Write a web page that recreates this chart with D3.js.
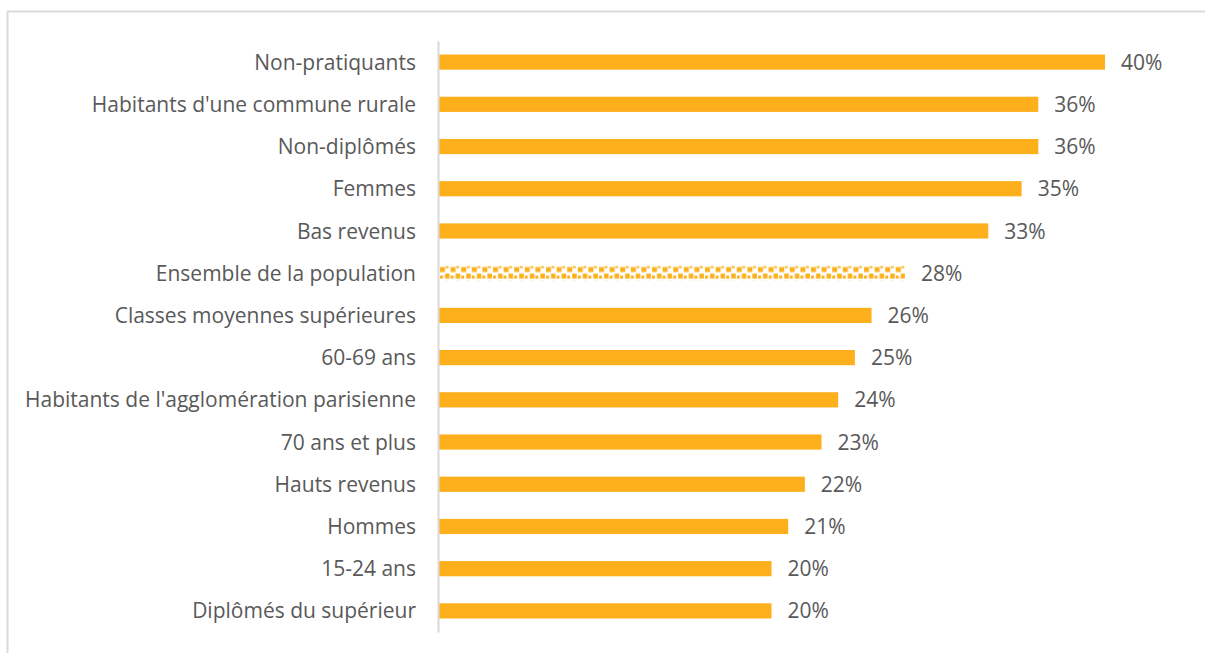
<!DOCTYPE html>
<html>
<head>
<meta charset="utf-8">
<script src="https://cdn.jsdelivr.net/npm/d3@7/dist/d3.min.js"></script>
<style>
  html, body { margin: 0; padding: 0; background: #fff; }
  svg { display: block; }
  text { font-family: "Open Sans", sans-serif; fill: #595959; }
</style>
</head>
<body>
<svg id="chart" width="1205" height="653"></svg>
<script>
// Share of each group, in percent, top to bottom
const categories = [
  "Non-pratiquants",
  "Habitants d'une commune rurale",
  "Non-diplômés",
  "Femmes",
  "Bas revenus",
  "Ensemble de la population",
  "Classes moyennes supérieures",
  "60-69 ans",
  "Habitants de l'agglomération parisienne",
  "70 ans et plus",
  "Hauts revenus",
  "Hommes",
  "15-24 ans",
  "Diplômés du supérieur"
];
const values = [40, 36, 36, 35, 33, 28, 26, 25, 24, 23, 22, 21, 20, 20];
// The overall-population bar is drawn with a dotted fill
const highlighted = ["Ensemble de la population"];

const svg = d3.select("#chart");
const W = 1205, H = 653;
const orange = "#FDB01B";
const fontSize = 21;

// Frame around the chart area
svg.append("line").attr("x1", 7.5).attr("x2", W).attr("y1", 11.5).attr("y2", 11.5)
  .attr("stroke", "#d9d9d9").attr("stroke-width", 2);
svg.append("line").attr("x1", 7.5).attr("x2", 7.5).attr("y1", 11).attr("y2", H)
  .attr("stroke", "#d9d9d9").attr("stroke-width", 2);

const x0 = 438;
const x = d3.scaleLinear().domain([0, 40]).range([x0, 1105]);
const y = d3.scaleBand().domain(categories).range([41, 632]).paddingInner(0.64).paddingOuter(0.32);

// Confetti-like pattern for the highlighted bar
const defs = svg.append("defs");
const pat = defs.append("pattern").attr("id", "confetti")
  .attr("patternUnits", "userSpaceOnUse")
  .attr("width", 10.6).attr("height", 15)
  .attr("x", x0 + 1).attr("y", y(highlighted[0]));
[[1, 1.5, 5, 5], [6.5, 0.5, 3, 2], [6, 8, 4.5, 5], [1, 10, 3, 3]]
  .forEach(([px, py, pw, ph]) => pat.append("rect")
    .attr("x", px).attr("y", py).attr("width", pw).attr("height", ph).attr("fill", orange));

const rows = svg.append("g");
rows.selectAll("rect.bar").data(categories).join("rect")
  .attr("class", "bar")
  .attr("x", x0 + 1)
  .attr("y", d => y(d))
  .attr("width", (d, i) => x(values[i]) - x0 - 1)
  .attr("height", y.bandwidth())
  .attr("fill", d => highlighted.includes(d) ? "url(#confetti)" : orange);

// Value labels
rows.selectAll("text.val").data(categories).join("text")
  .attr("class", "val")
  .attr("x", (d, i) => x(values[i]) + 16)
  .attr("y", d => y(d) + y.bandwidth() / 2)
  .attr("dy", "0.36em")
  .attr("font-size", fontSize)
  .text((d, i) => values[i] + "%");

// Category axis
const axis = d3.axisLeft(y).tickSize(0).tickPadding(22);
const g = svg.append("g").attr("transform", `translate(${x0},0)`).call(axis);
g.select(".domain").attr("stroke", "#d9d9d9").attr("stroke-width", 2);
g.selectAll(".tick text").attr("font-size", fontSize).attr("fill", "#595959")
  .attr("dy", "0.36em")
  .style("font-family", "'Open Sans', sans-serif");
</script>
</body>
</html>
